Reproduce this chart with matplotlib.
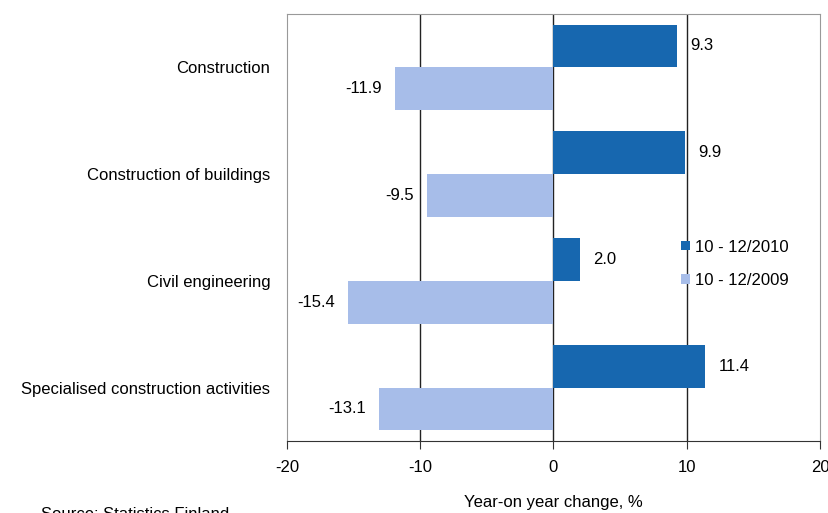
import numpy as np
import matplotlib.pyplot as plt

plt.rcParams['font.family'] = ['Liberation Sans', 'DejaVu Sans']
plt.rcParams['font.size'] = 12
plt.rcParams['axes.unicode_minus'] = False

# Data
categories = ["Construction", "Construction of buildings", "Civil engineering",
              "Specialised construction activities"]
series_2010 = [9.3, 9.9, 2.0, 11.4]
series_2009 = [-11.9, -9.5, -15.4, -13.1]
labels = ["10 - 12/2010", "10 - 12/2009"]
c2010 = '#1767AF'
c2009 = '#A7BDE9'

fig = plt.figure(figsize=(8.29, 5.13), dpi=100)
ax = fig.add_axes([0.3462, 0.1404, 0.6429, 0.8324])

y = np.arange(len(categories))
h = 0.4
ax.barh(y - h/2, series_2010, height=h, color=c2010, label=labels[0], zorder=3)
ax.barh(y + h/2, series_2009, height=h, color=c2009, label=labels[1], zorder=3)

for yy, v in zip(y - h/2, series_2010):
    ax.text(v + 1.0, yy, f"{v:.1f}", va='center', ha='left', zorder=4)
for yy, v in zip(y + h/2, series_2009):
    ax.text(v - 1.0, yy, f"{v:.1f}", va='center', ha='right', zorder=4)

ax.set_xlim(-20, 20)
ax.set_ylim(len(categories) - 0.5, -0.5)
ax.set_xticks([-20, -10, 0, 10, 20])
ax.set_yticks(y)
ax.set_yticklabels(categories)
ax.tick_params(axis='y', length=0, pad=12)
ax.tick_params(axis='x', length=6, color='#333333', pad=8)
for xv in [-10, 0, 10]:
    ax.axvline(xv, color='#222222', lw=1.0, zorder=2)
for s in ax.spines.values():
    s.set_color('#999999')
ax.spines['bottom'].set_color('#333333')

ax.set_xlabel("Year-on year change, %", labelpad=14)
ax.legend(loc='center left', bbox_to_anchor=(0.712, 0.415), frameon=False,
          handlelength=0.5, handleheight=0.5, handletextpad=0.3,
          labelspacing=1.1)

fig.text(0.05, -0.018, "Source: Statistics Finland", va='bottom')

fig.savefig("out.png", dpi=100)
